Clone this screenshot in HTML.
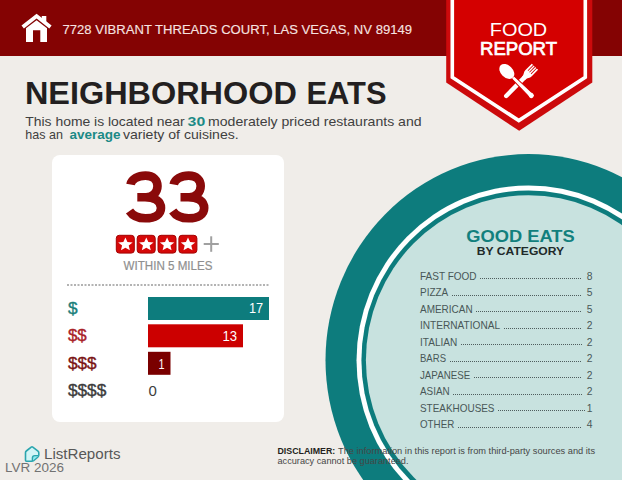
<!DOCTYPE html>
<html>
<head>
<meta charset="utf-8">
<style>
html,body{margin:0;padding:0;}
body{width:622px;height:480px;overflow:hidden;background:#f0ede9;position:relative;font-family:"Liberation Sans",sans-serif;}
.abs{position:absolute;}
#header{left:0;top:0;width:622px;height:56px;background:#840303;}
#card{left:52px;top:155px;width:232px;height:267px;background:#fff;border-radius:8px;}
svg{position:absolute;left:0;top:0;}
text{font-family:"Liberation Sans",sans-serif;}
</style>
</head>
<body>
<div id="header" class="abs"></div>
<div id="card" class="abs"></div>
<svg width="622" height="480" viewBox="0 0 622 480">
  <!-- big circle -->
  <ellipse cx="528.5" cy="360.3" rx="203" ry="206.2" fill="#0d7c7d"/>
  <ellipse cx="528.5" cy="360.3" rx="172" ry="174.8" fill="#ffffff"/>
  <ellipse cx="528.5" cy="360.3" rx="167.1" ry="169.8" fill="#0d7c7d"/>
  <ellipse cx="528.5" cy="360.3" rx="162.6" ry="165.1" fill="#c8e2df"/>

  <!-- house icon -->
  <g fill="#fff">
    <polygon points="21.5,25.6 36.6,13.8 51.6,25.6 49.3,28.4 36.6,18.6 23.9,28.4"/>
    <rect x="41.8" y="16" width="4.5" height="6"/>
    <polygon points="26,28.3 36.6,20.3 47,28.3 47,42 40.3,42 40.3,30.2 33,30.2 33,42 26,42"/>
  </g>
  <text x="62.5" y="33.5" font-size="13.2" fill="#f6e3e1" stroke="#f6e3e1" stroke-width="0.12" textLength="349.5" lengthAdjust="spacingAndGlyphs">7728 VIBRANT THREADS COURT, LAS VEGAS, NV 89149</text>

  <!-- banner -->
  <polygon points="446.2,0 592.3,0 592.3,82.5 519.2,130.8 446.2,82.5" fill="#cc0a0c"/>
  <polygon points="452.3,0 585.3,0 585.3,77.3 518.8,120.5 452.3,77.3" fill="#d40000"/>
  <polyline points="452.3,-2 452.3,77.3 518.8,120.5 585.3,77.3 585.3,-2" fill="none" stroke="#fff" stroke-width="3.6"/>
  <text x="518.5" y="35.8" font-size="18.5" fill="#fff" text-anchor="middle" textLength="57.5" lengthAdjust="spacingAndGlyphs">FOOD</text>
  <text x="518.5" y="54.5" font-size="18.2" fill="#fff" stroke="#fff" stroke-width="0.7" text-anchor="middle" textLength="77" lengthAdjust="spacingAndGlyphs">REPORT</text>
  <!-- fork -->
  <g transform="translate(506.2,96) rotate(44.5)" fill="#fff">
    <rect x="-2.2" y="-28" width="4.4" height="30.2" rx="2.2"/>
    <path d="M-2.2,-25 C-2.2,-28 -4.4,-29 -4.4,-32 L-4.4,-41 L4.4,-41 L4.4,-32 C4.4,-29 2.2,-28 2.2,-25 Z"/>
    <g fill="#d40000">
      <rect x="-2.6" y="-41.5" width="0.8" height="8.3"/>
      <rect x="-0.4" y="-41.5" width="0.8" height="8.3"/>
      <rect x="1.8" y="-41.5" width="0.8" height="8.3"/>
    </g>
  </g>
  <!-- spoon -->
  <g transform="translate(531.3,95.5) rotate(-45.5)" fill="#fff">
    <path d="M-2.6,0 L-1.8,-26 L1.8,-26 L2.6,0 Z" stroke="#d40000" stroke-width="1"/>
    <circle cx="0" cy="0" r="2.6"/>
    <ellipse cx="0" cy="-34.3" rx="6" ry="8.7"/>
  </g>

  <!-- title -->
  <text x="24.9" y="103.5" font-size="31.6" font-weight="bold" fill="#231f20" textLength="272" lengthAdjust="spacingAndGlyphs">NEIGHBORHOOD</text>
  <text x="306.5" y="103.5" font-size="31.6" font-weight="bold" fill="#231f20" textLength="80" lengthAdjust="spacingAndGlyphs">EATS</text>
  <g font-size="13.4" fill="#404040">
    <text x="25.3" y="125.5" textLength="159.3" lengthAdjust="spacingAndGlyphs">This home is located near</text>
    <text x="187.6" y="125.5" font-weight="bold" fill="#1c8a86" textLength="17.6" lengthAdjust="spacingAndGlyphs">30</text>
    <text x="208" y="125.5" textLength="213.6" lengthAdjust="spacingAndGlyphs">moderately priced restaurants and</text>
    <text x="25.3" y="139.1" textLength="37.6" lengthAdjust="spacingAndGlyphs">has an</text>
    <text x="69.4" y="139.1" font-weight="bold" fill="#1c8a86" textLength="51" lengthAdjust="spacingAndGlyphs">average</text>
    <text x="122.9" y="139.1" textLength="115.8" lengthAdjust="spacingAndGlyphs">variety of cuisines.</text>
  </g>

  <!-- card contents -->
  <g fill="none" stroke="#8a0a0a" stroke-width="8.6">
    <path id="three" d="M130.5,184.5 C131.5,179 138,175.6 145.5,175.6 C153.5,175.6 157.5,180 157.5,186 C157.5,192.5 152.5,197.2 146,197.2 L137.3,197.2 M145,197.2 C155,197.2 161,201.2 161,208 C161,214.5 155,218.3 145.5,218.3 C138,218.3 132.5,215.5 129.5,211"/>
    <use href="#three" transform="translate(43.2,0)"/>
  </g>
  <g>
    <rect x="116.30000000000001" y="235.3" width="18" height="17.8" rx="3" fill="#d60808" stroke="#a30000" stroke-width="1"/>
    <path d="M0.000,-1.000 L0.270,-0.372 L0.951,-0.309 L0.437,0.142 L0.588,0.809 L0.000,0.460 L-0.588,0.809 L-0.437,0.142 L-0.951,-0.309 L-0.270,-0.372 Z" transform="translate(125.40,244.6) scale(7.6,7.0)" fill="#fff"/>
    <rect x="137.20000000000002" y="235.3" width="18" height="17.8" rx="3" fill="#d60808" stroke="#a30000" stroke-width="1"/>
    <path d="M0.000,-1.000 L0.270,-0.372 L0.951,-0.309 L0.437,0.142 L0.588,0.809 L0.000,0.460 L-0.588,0.809 L-0.437,0.142 L-0.951,-0.309 L-0.270,-0.372 Z" transform="translate(146.30,244.6) scale(7.6,7.0)" fill="#fff"/>
    <rect x="158.0" y="235.3" width="18" height="17.8" rx="3" fill="#d60808" stroke="#a30000" stroke-width="1"/>
    <path d="M0.000,-1.000 L0.270,-0.372 L0.951,-0.309 L0.437,0.142 L0.588,0.809 L0.000,0.460 L-0.588,0.809 L-0.437,0.142 L-0.951,-0.309 L-0.270,-0.372 Z" transform="translate(167.10,244.6) scale(7.6,7.0)" fill="#fff"/>
    <rect x="178.9" y="235.3" width="18" height="17.8" rx="3" fill="#d60808" stroke="#a30000" stroke-width="1"/>
    <path d="M0.000,-1.000 L0.270,-0.372 L0.951,-0.309 L0.437,0.142 L0.588,0.809 L0.000,0.460 L-0.588,0.809 L-0.437,0.142 L-0.951,-0.309 L-0.270,-0.372 Z" transform="translate(188.00,244.6) scale(7.6,7.0)" fill="#fff"/>
  </g>
  <g stroke="#a0a0a0" stroke-width="2"><line x1="203.7" y1="244" x2="218.8" y2="244"/><line x1="211.2" y1="236.3" x2="211.2" y2="251.8"/></g>
  <text x="168" y="270" font-size="12" fill="#8f8f8f" stroke="#8f8f8f" stroke-width="0.2" text-anchor="middle" textLength="89" lengthAdjust="spacingAndGlyphs">WITHIN 5 MILES</text>
  <line x1="67" y1="285" x2="269" y2="285" stroke="#9a9a9a" stroke-width="1.3" stroke-dasharray="2,1.5"/>

  <rect x="148" y="297" width="121" height="23" fill="#0d7c7d"/>
  <rect x="148" y="324.3" width="95" height="23" fill="#cc0000"/>
  <rect x="148" y="351.8" width="22.5" height="23" fill="#7a0000"/>
  <text x="249" y="313.4" font-size="15.2" fill="#fff" textLength="14.2" lengthAdjust="spacingAndGlyphs">17</text>
  <text x="222.5" y="340.9" font-size="15.2" fill="#fff" textLength="14.6" lengthAdjust="spacingAndGlyphs">13</text>
  <text x="158.6" y="368.6" font-size="15.2" fill="#fff" textLength="6" lengthAdjust="spacingAndGlyphs">1</text>
  <text x="148.5" y="395.8" font-size="15" fill="#3d3d3d">0</text>
  <g font-size="17">
    <text x="67.9" y="314" fill="#1b7f7b" stroke="#1b7f7b" stroke-width="0.4" textLength="9.6" lengthAdjust="spacingAndGlyphs">$</text>
    <text x="67.9" y="341.3" fill="#a92228" stroke="#a92228" stroke-width="0.4" textLength="18.8" lengthAdjust="spacingAndGlyphs">$$</text>
    <text x="67.9" y="368.8" fill="#7a1414" stroke="#7a1414" stroke-width="0.4" textLength="28.6" lengthAdjust="spacingAndGlyphs">$$$</text>
    <text x="67.9" y="395.8" fill="#3c3c3c" stroke="#3c3c3c" stroke-width="0.4" textLength="38.4" lengthAdjust="spacingAndGlyphs">$$$$</text>
  </g>

  <!-- good eats -->
  <text x="520.5" y="242" font-size="16.5" font-weight="bold" fill="#12807d" text-anchor="middle" textLength="108.5" lengthAdjust="spacingAndGlyphs">GOOD EATS</text>
  <text x="520.5" y="255.2" font-size="11.3" font-weight="bold" fill="#1f2a2a" text-anchor="middle" textLength="87.3" lengthAdjust="spacingAndGlyphs">BY CATEGORY</text>

  <g font-size="10.3" fill="#485757">
    <text x="420" y="279.7" textLength="56.6" lengthAdjust="spacingAndGlyphs">FAST FOOD</text><text x="592.5" y="279.7" text-anchor="end">8</text>
    <line x1="480" y1="278.5" x2="582" y2="278.5" stroke="#4f5e5e" stroke-width="1" stroke-dasharray="1,1"/>
    <text x="420" y="296.2" textLength="28.2" lengthAdjust="spacingAndGlyphs">PIZZA</text><text x="592.5" y="296.2" text-anchor="end">5</text>
    <line x1="452" y1="295.5" x2="582" y2="295.5" stroke="#4f5e5e" stroke-width="1" stroke-dasharray="1,1"/>
    <text x="420" y="312.7" textLength="52.6" lengthAdjust="spacingAndGlyphs">AMERICAN</text><text x="592.5" y="312.7" text-anchor="end">5</text>
    <line x1="476" y1="311.5" x2="582" y2="311.5" stroke="#4f5e5e" stroke-width="1" stroke-dasharray="1,1"/>
    <text x="420" y="329.2" textLength="80.1" lengthAdjust="spacingAndGlyphs">INTERNATIONAL</text><text x="592.5" y="329.2" text-anchor="end">2</text>
    <line x1="504" y1="328.5" x2="582" y2="328.5" stroke="#4f5e5e" stroke-width="1" stroke-dasharray="1,1"/>
    <text x="420" y="345.7" textLength="37.3" lengthAdjust="spacingAndGlyphs">ITALIAN</text><text x="592.5" y="345.7" text-anchor="end">2</text>
    <line x1="461" y1="344.5" x2="582" y2="344.5" stroke="#4f5e5e" stroke-width="1" stroke-dasharray="1,1"/>
    <text x="420" y="362.2" textLength="26.0" lengthAdjust="spacingAndGlyphs">BARS</text><text x="592.5" y="362.2" text-anchor="end">2</text>
    <line x1="450" y1="361.5" x2="582" y2="361.5" stroke="#4f5e5e" stroke-width="1" stroke-dasharray="1,1"/>
    <text x="420" y="378.7" textLength="50.2" lengthAdjust="spacingAndGlyphs">JAPANESE</text><text x="592.5" y="378.7" text-anchor="end">2</text>
    <line x1="474" y1="377.5" x2="582" y2="377.5" stroke="#4f5e5e" stroke-width="1" stroke-dasharray="1,1"/>
    <text x="420" y="395.2" textLength="29.7" lengthAdjust="spacingAndGlyphs">ASIAN</text><text x="592.5" y="395.2" text-anchor="end">2</text>
    <line x1="453" y1="394.5" x2="582" y2="394.5" stroke="#4f5e5e" stroke-width="1" stroke-dasharray="1,1"/>
    <text x="420" y="411.7" textLength="74.5" lengthAdjust="spacingAndGlyphs">STEAKHOUSES</text><text x="592.5" y="411.7" text-anchor="end">1</text>
    <line x1="498" y1="410.5" x2="586" y2="410.5" stroke="#4f5e5e" stroke-width="1" stroke-dasharray="1,1"/>
    <text x="420" y="428.2" textLength="34.3" lengthAdjust="spacingAndGlyphs">OTHER</text><text x="592.5" y="428.2" text-anchor="end">4</text>
    <line x1="458" y1="427.5" x2="582" y2="427.5" stroke="#4f5e5e" stroke-width="1" stroke-dasharray="1,1"/>
  </g>

  <!-- footer -->
  <path d="M25.5,452.6 Q25.5,451.6 26.3,451 L31.2,447.1 Q32,446.5 32.8,447.1 L38,451.1 Q38.8,451.7 38.8,452.7 L38.8,455 Q38.8,456 38,456.8 L33.6,460.6 Q32.8,461.2 31.8,461.2 L26.5,461.2 Q25.5,461.2 25.5,460.2 Z" fill="#d2f5f6" stroke="#2aa5ae" stroke-width="1.6"/>
  <path d="M32.4,461 L32.4,458 Q32.4,455.6 34.8,455.6 L38.6,455.6" fill="#8eeaee" stroke="#2aa5ae" stroke-width="1.4"/>
  <text x="44" y="459.3" font-size="14" fill="#585858" textLength="76.5" lengthAdjust="spacingAndGlyphs">ListReports</text>
  <text x="5" y="471.6" font-size="12.5" fill="#727272" textLength="59" lengthAdjust="spacingAndGlyphs">LVR 2026</text>
  <text x="277.5" y="453.8" font-size="8.8" font-weight="bold" fill="#231f20" textLength="57.8" lengthAdjust="spacingAndGlyphs">DISCLAIMER:</text>
  <text x="338" y="453.8" font-size="8.8" fill="#464646" textLength="257" lengthAdjust="spacingAndGlyphs">The information in this report is from third-party sources and its</text>
  <text x="277.5" y="463.7" font-size="8.8" fill="#464646" textLength="131" lengthAdjust="spacingAndGlyphs">accuracy cannot be guaranteed.</text>
</svg>
</body>
</html>
